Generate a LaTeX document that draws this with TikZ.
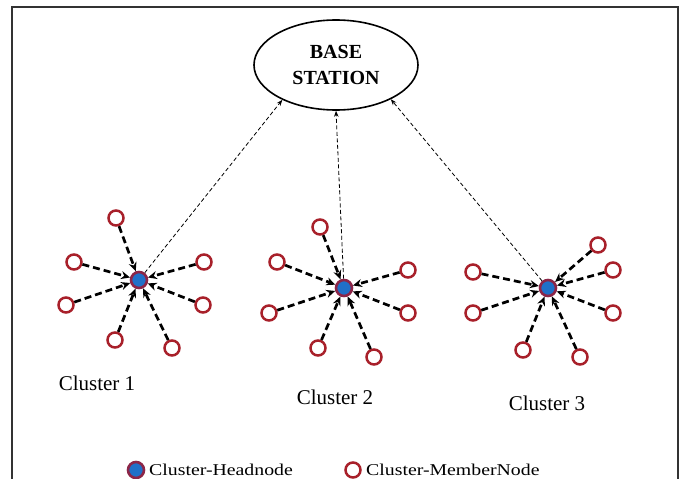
\documentclass[tikz,border=0pt]{standalone}
\usepackage{fontspec}
\setmainfont{Liberation Serif}
\newfontfamily\legendfont[FakeStretch=1.2]{Liberation Serif}
\usepackage{tikz}
\usetikzlibrary{arrows.meta, shapes.geometric}
\definecolor{memred}{RGB}{168,32,42}
\definecolor{headblue}{RGB}{32,112,200}
\definecolor{headrim}{RGB}{140,38,72}

\begin{document}
\begin{tikzpicture}[x=1pt, y=-1pt,
    member/.style={circle, draw=memred, line width=2.5pt, fill=white, minimum size=15pt, inner sep=0pt},
    head/.style={circle, draw=headrim, fill=headblue, line width=2.6pt, minimum size=16pt, inner sep=0pt},
    base/.style={ellipse, draw=black, line width=1.6pt, minimum width=164pt, minimum height=90pt, align=center, font=\fontsize{20}{26}\selectfont\bfseries},
    clabel/.style={font=\fontsize{21}{24}\selectfont},
    legtext/.style={font=\legendfont\fontsize{16.5}{18}\selectfont, anchor=west, inner sep=0pt},
    link/.style={-{Stealth[length=9pt, width=8pt]}, line width=2.7pt, dash pattern=on 7pt off 4pt},
    uplink/.style={-{Stealth[length=6pt, width=4.5pt]}, line width=0.8pt, dash pattern=on 4pt off 2.5pt},
    frame/.style={draw=black!80, line width=1.5pt}
]
\useasboundingbox (0,0) rectangle (686,479);

% === MARCO ===
\draw[frame] (12,479) -- (12,7) -- (678,7) -- (678,479);

% === BASE STATION ===
\node[base] (bs) at (336,65) {BASE\\STATION};

% === CLUSTER 1 ===
\node[head] (h1) at (139,280) {};
\node[member] (c1m1) at (116,218) {};
\node[member] (c1m2) at (74,262) {};
\node[member] (c1m3) at (66,305) {};
\node[member] (c1m4) at (115,340) {};
\node[member] (c1m5) at (172,348) {};
\node[member] (c1m6) at (203,305) {};
\node[member] (c1m7) at (204,262) {};
\node[clabel] (lab1) at (97,383) {Cluster 1};

% === CLUSTER 2 ===
\node[head] (h2) at (344,288) {};
\node[member] (c2m1) at (320,227) {};
\node[member] (c2m2) at (277,262) {};
\node[member] (c2m3) at (269,313) {};
\node[member] (c2m4) at (318,348) {};
\node[member] (c2m5) at (374,357) {};
\node[member] (c2m6) at (408,313) {};
\node[member] (c2m7) at (408,270) {};
\node[clabel] (lab2) at (335,397) {Cluster 2};

% === CLUSTER 3 ===
\node[head] (h3) at (548,288) {};
\node[member] (c3m1) at (598,245) {};
\node[member] (c3m2) at (613,270) {};
\node[member] (c3m3) at (473,272) {};
\node[member] (c3m4) at (473,313) {};
\node[member] (c3m5) at (523,350) {};
\node[member] (c3m6) at (580,357) {};
\node[member] (c3m7) at (613,313) {};
\node[clabel] (lab3) at (547,403) {Cluster 3};

% === CONEXIONES ===
\draw[link] (c1m1) -- (h1);
\draw[link] (c1m2) -- (h1);
\draw[link] (c1m3) -- (h1);
\draw[link] (c1m4) -- (h1);
\draw[link] (c1m5) -- (h1);
\draw[link] (c1m6) -- (h1);
\draw[link] (c1m7) -- (h1);

\draw[link] (c2m1) -- (h2);
\draw[link] (c2m2) -- (h2);
\draw[link] (c2m3) -- (h2);
\draw[link] (c2m4) -- (h2);
\draw[link] (c2m5) -- (h2);
\draw[link] (c2m6) -- (h2);
\draw[link] (c2m7) -- (h2);

\draw[link] (c3m1) -- (h3);
\draw[link] (c3m2) -- (h3);
\draw[link] (c3m3) -- (h3);
\draw[link] (c3m4) -- (h3);
\draw[link] (c3m5) -- (h3);
\draw[link] (c3m6) -- (h3);
\draw[link] (c3m7) -- (h3);

\draw[uplink] (h1) -- (bs.213);
\draw[uplink] (h2) -- (bs.south);
\draw[uplink] (h3) -- (bs.328);

% === LEYENDA ===
\node[head] (leghead) at (136,470) {};
\node[legtext] (legheadtxt) at (149,470) {Cluster-Headnode};
\node[member] (legmember) at (353,470) {};
\node[legtext] (legmembertxt) at (366,470) {Cluster-MemberNode};

\end{tikzpicture}
\end{document}
